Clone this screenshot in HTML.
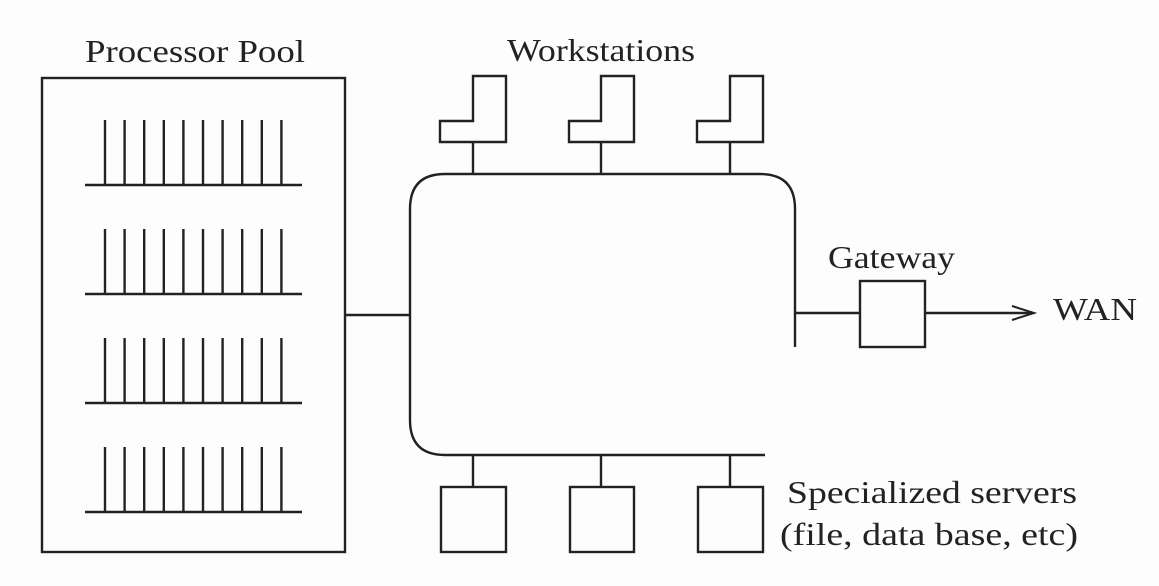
<!DOCTYPE html>
<html><head><style>html,body{margin:0;padding:0;background:#fff;}svg{display:block}</style></head>
<body>
<svg width="1159" height="586" viewBox="0 0 1159 586" xmlns="http://www.w3.org/2000/svg">
<rect width="1159" height="586" fill="#fdfdfd"/>
<g fill="none" stroke="#222" stroke-width="2.4">
<rect x="42" y="78" width="303" height="474"/>
<g id="comb">
<line x1="85" y1="185" x2="302" y2="185"/>
<path d="M105 185V120M124.6 185V120M144.2 185V120M163.8 185V120M183.4 185V120M203 185V120M222.6 185V120M242.2 185V120M261.8 185V120M281.4 185V120"/>
</g>
<use href="#comb" y="109"/>
<use href="#comb" y="218"/>
<use href="#comb" y="327"/>
<line x1="345" y1="315" x2="410" y2="315"/>
<path d="M795 347V209Q795 174 760 174H445Q410 174 410 209V420Q410 455 445 455H765"/>
<path d="M440 121H473V76H506V142H440Z"/>
<path d="M569 121H601V76H634V142H569Z"/>
<path d="M697 121H730V76H763V142H697Z"/>
<path d="M473 142V174M601 142V174M730 142V174"/>
<path d="M473 455V487M601 455V487M730 455V487"/>
<rect x="441" y="487" width="65" height="65"/>
<rect x="570" y="487" width="64" height="65"/>
<rect x="698" y="487" width="65" height="65"/>
<line x1="795" y1="313" x2="860" y2="313"/>
<rect x="860" y="281" width="65" height="66"/>
<line x1="925" y1="313" x2="1033" y2="313"/>
<path d="M1012 306L1034 313L1012 320" stroke-width="2"/>
</g>
<g font-family="Liberation Serif, serif" font-size="32" fill="#222" lengthAdjust="spacingAndGlyphs">
<text x="85" y="62" textLength="220" lengthAdjust="spacingAndGlyphs">Processor Pool</text>
<text x="507" y="61" textLength="188" lengthAdjust="spacingAndGlyphs">Workstations</text>
<text x="828" y="268" textLength="127" lengthAdjust="spacingAndGlyphs">Gateway</text>
<text x="1053" y="320" textLength="84" lengthAdjust="spacingAndGlyphs">WAN</text>
<text x="787" y="503" textLength="290" lengthAdjust="spacingAndGlyphs">Specialized servers</text>
<text x="780" y="545" textLength="298" lengthAdjust="spacingAndGlyphs">(file, data base, etc)</text>
</g>
</svg>
</body></html>
